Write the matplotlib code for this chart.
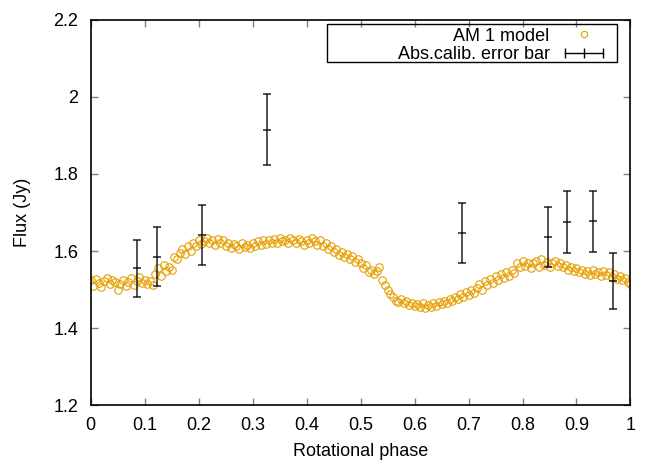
import numpy as np
import matplotlib
matplotlib.use("Agg")
import matplotlib.pyplot as plt
from matplotlib.lines import Line2D
from matplotlib.patches import Rectangle
from matplotlib.legend_handler import HandlerLine2D

plt.rcParams['font.family'] = ['Liberation Sans', 'DejaVu Sans']

# model light curve, sampled every 0.005 in phase
model_flux = [
    1.525, 1.510, 1.528, 1.518, 1.508, 1.522, 1.530, 1.515, 1.525, 1.520,
    1.500, 1.515, 1.525, 1.510, 1.520, 1.530, 1.512, 1.522, 1.532, 1.518,
    1.525, 1.515, 1.522, 1.512, 1.540, 1.555, 1.535, 1.565, 1.548, 1.560,
    1.552, 1.585, 1.580, 1.595, 1.605, 1.592, 1.612, 1.600, 1.620, 1.612,
    1.630, 1.618, 1.625, 1.635, 1.622, 1.630, 1.615, 1.632, 1.620, 1.628,
    1.612, 1.620, 1.608, 1.618, 1.612, 1.605, 1.620, 1.610, 1.615, 1.608,
    1.620, 1.612, 1.625, 1.615, 1.628, 1.618, 1.630, 1.620, 1.632, 1.622,
    1.635, 1.625, 1.630, 1.622, 1.635, 1.628, 1.620, 1.632, 1.625, 1.615,
    1.630, 1.622, 1.635, 1.625, 1.615, 1.628, 1.612, 1.620, 1.605, 1.612,
    1.598, 1.605, 1.590, 1.598, 1.585, 1.592, 1.580, 1.588, 1.572, 1.580,
    1.570, 1.555, 1.565, 1.545, 1.552, 1.540, 1.548, 1.558, 1.525, 1.512,
    1.500, 1.490, 1.480, 1.472, 1.468, 1.475, 1.465, 1.470, 1.460, 1.465,
    1.458, 1.462, 1.455, 1.465, 1.452, 1.460, 1.455, 1.465, 1.458, 1.468,
    1.462, 1.470, 1.465, 1.475, 1.470, 1.482, 1.475, 1.490, 1.480, 1.495,
    1.485, 1.500, 1.492, 1.505, 1.515, 1.500, 1.522, 1.512, 1.528, 1.518,
    1.535, 1.525, 1.540, 1.530, 1.545, 1.535, 1.550, 1.542, 1.570, 1.560,
    1.575, 1.562, 1.570, 1.555, 1.568, 1.575, 1.560, 1.580, 1.565, 1.572,
    1.560, 1.570, 1.575, 1.562, 1.570, 1.558, 1.565, 1.552, 1.560, 1.548,
    1.555, 1.545, 1.552, 1.540, 1.548, 1.538, 1.550, 1.540, 1.545, 1.535,
    1.548, 1.538, 1.545, 1.532, 1.540, 1.528, 1.535, 1.525, 1.530, 1.520,
    1.515,
]
model_phase = np.linspace(0.0, 1.0, len(model_flux))

# observations with absolute calibration error
obs_phase = [0.085, 0.123, 0.206, 0.326, 0.688, 0.847, 0.883, 0.930, 0.967]
obs_flux = [1.555, 1.586, 1.642, 1.915, 1.646, 1.636, 1.675, 1.677, 1.522]
obs_err = [0.074, 0.076, 0.077, 0.091, 0.078, 0.077, 0.080, 0.079, 0.073]

orange = '#E69F00'
fs = 13

fig = plt.figure(figsize=(6.64, 4.65), dpi=100)
ax = fig.add_axes([0.1366, 0.128, 0.8129, 0.830])

ax.plot(model_phase, model_flux, linestyle='none', marker='o', markersize=5.4,
        markerfacecolor='none', markeredgecolor=orange, markeredgewidth=0.8,
        label='AM 1 model')
ax.errorbar(obs_phase, obs_flux, yerr=obs_err, fmt='none', ecolor='black',
            elinewidth=1.2, capsize=3, capthick=1.2, alpha=0.8)
ax.plot(obs_phase, obs_flux, linestyle='none', marker='_', markersize=6,
        markeredgewidth=1.2, color='black', alpha=0.8)

ax.set_xlim(0, 1)
ax.set_ylim(1.2, 2.2)
ax.set_xticks(np.arange(0, 1.01, 0.1))
ax.set_xticklabels(['0', '0.1', '0.2', '0.3', '0.4', '0.5', '0.6', '0.7', '0.8', '0.9', '1'])
ax.set_yticks([1.2, 1.4, 1.6, 1.8, 2.0, 2.2])
ax.set_yticklabels(['1.2', '1.4', '1.6', '1.8', '2', '2.2'])
ax.tick_params(direction='in', top=True, right=True, length=5, width=1,
               color='#808080', labelsize=fs)
ax.tick_params(axis='x', pad=8)
ax.tick_params(axis='y', pad=9)
for s in ax.spines.values():
    s.set_linewidth(1.2)
    s.set_color('black')

ax.set_xlabel('Rotational phase', fontsize=fs, labelpad=7)
ax.set_ylabel('Flux (Jy)', fontsize=fs, labelpad=16)

# key: gnuplot style, text right aligned, sample on the right
err_proxy = Line2D([], [], color='black', lw=1, marker='|', markersize=7,
                   markeredgewidth=1)
handles = [ax.lines[0], err_proxy]
labels = ['AM 1 model', 'Abs.calib. error bar']
leg = ax.legend(handles, labels, loc='upper right', markerfirst=False,
                fontsize=fs, frameon=False, borderpad=0, borderaxespad=0,
                handlelength=2.7, handletextpad=0.55, labelspacing=0.1,
                bbox_to_anchor=(0.959, 0.979),
                handler_map={err_proxy: HandlerLine2D(numpoints=3)})
leg.legend_handles[0].set_markersize(4.5)
ax.add_patch(Rectangle((0.438, 0.891), 0.5375, 0.097, transform=ax.transAxes,
                       fill=False, edgecolor='black', lw=1, zorder=5))

fig.savefig('out.png', dpi=100)
